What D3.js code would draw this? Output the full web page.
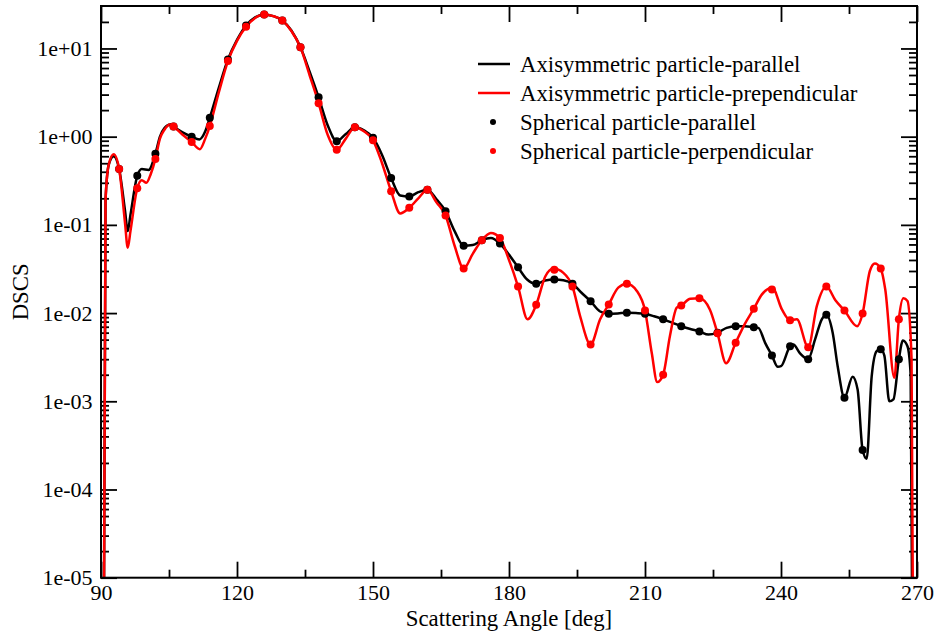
<!DOCTYPE html>
<html>
<head>
<meta charset="utf-8">
<script src="https://cdn.jsdelivr.net/npm/d3@7"></script>
<style>
  body { margin: 0; background: #fff; }
  text { font-family: "Liberation Serif", "Times New Roman", Times, serif; fill: #000; }
</style>
</head>
<body>
<svg id="chart" width="935" height="635"></svg>
<script>
// Differential scattering cross section vs. scattering angle

// ---- axis ticks ----
const angleTicks = [90, 120, 150, 180, 210, 240, 270];
const angleMinorTicks = [105, 135, 165, 195, 225, 255];
const dscsTicks = [1e-5, 1e-4, 1e-3, 1e-2, 1e-1, 1e0, 1e1];
const dscsTickLabels = ["1e-05", "1e-04", "1e-03", "1e-02", "1e-01", "1e+00", "1e+01"];

// ---- axisymmetric particle, parallel polarisation (curve) ----
const parAngles = [90, 91, 91.7, 92.8, 94, 95.3, 95.9, 96.5, 98, 99, 100.5, 102, 103, 104, 105.3, 106, 108, 110, 111.7, 113, 114, 116,
  118, 120, 122, 124, 126, 128, 130, 132, 134, 136, 138, 140, 142, 144, 146, 148, 150, 152, 154, 156,
  158, 160, 162, 164, 166, 168, 170, 172, 174, 176, 178, 180, 182, 184, 186, 188, 190, 192, 194, 196,
  198, 200, 202, 204, 206, 208, 210, 212, 214, 216, 218, 220, 222, 224, 226, 228, 230, 232, 234, 235,
  236.5, 238, 239.3, 240, 242, 242.7, 244.2, 246, 247.5, 249, 250, 251.4, 252.5, 254, 255.8, 256.9, 258, 258.9,
  260, 261.1, 262, 262.8, 263.9, 264.8, 266, 266.9, 267.9, 268.6, 270];
const parValues = [1e-14, 0.19, 0.48, 0.6, 0.43, 0.145, 0.085, 0.13, 0.36, 0.43, 0.42, 0.64, 1.0, 1.25, 1.37, 1.3, 1.12, 1.0, 0.93, 1.15, 1.64, 3.6,
  7.5, 12.5, 18.2, 22.5, 24.3, 23.3, 20.8, 16, 10.3, 5.5, 2.8, 1.35, 0.89, 1.07, 1.28, 1.18, 0.97, 0.62, 0.34, 0.215,
  0.21, 0.235, 0.25, 0.195, 0.143, 0.085, 0.058, 0.059, 0.067, 0.071, 0.0615, 0.046, 0.033, 0.024, 0.0215, 0.0234, 0.024, 0.0235, 0.0215, 0.017,
  0.0136, 0.0105, 0.0098, 0.0099, 0.0101, 0.01, 0.0098, 0.0092, 0.0085, 0.0078, 0.0071, 0.0066, 0.0062, 0.0057, 0.006, 0.0068, 0.0071, 0.0071, 0.0069, 0.0068,
  0.0046, 0.0033, 0.00246, 0.0025, 0.0042, 0.0044, 0.0035, 0.003, 0.005, 0.0085, 0.0096, 0.006, 0.0025, 0.0011, 0.0019, 0.00136, 0.00028, 0.000223,
  0.0019, 0.0037, 0.0039, 0.0033, 0.001, 0.00105, 0.003, 0.0049, 0.0042, 0.002, 1e-14];

// ---- axisymmetric particle, perpendicular polarisation (curve) ----
const perpAngles = [90, 91, 91.7, 92.8, 94, 95.3, 95.9, 96.5, 98, 99, 100, 101, 102, 103, 104, 105.2, 106, 108, 110, 111.8, 113, 114,
  116, 118, 120, 122, 124, 126, 128, 130, 132, 134, 136, 138, 140, 142, 144, 146, 148, 150, 152, 154,
  156, 158, 160, 162, 164, 166, 168, 170, 172, 174, 176, 178, 180, 182, 184.1, 186, 188, 189.8, 192, 194,
  195.7, 198, 200.1, 202, 204.1, 206, 208.2, 210, 211.5, 212.7, 214, 215.5, 217, 218, 220, 222, 224.3, 226, 227.9, 230,
  232, 234, 235.8, 238.1, 240.2, 242, 243.5, 246, 247.9, 250, 252, 254, 256.8, 258, 259.6, 260.7, 262, 263, 265, 266,
  267, 267.9, 268.8, 270];
const perpValues = [1e-14, 0.19, 0.48, 0.63, 0.43, 0.105, 0.055, 0.085, 0.26, 0.32, 0.30, 0.38, 0.56, 0.95, 1.2, 1.37, 1.3, 1.05, 0.87, 0.72, 0.95, 1.32,
  3.2, 7.2, 12.2, 17.6, 22.2, 24.3, 23.3, 20.8, 15.8, 10.3, 5.0, 2.4, 1.05, 0.71, 0.95, 1.28, 1.15, 0.91, 0.5, 0.24,
  0.135, 0.156, 0.2, 0.25, 0.18, 0.128, 0.058, 0.032, 0.047, 0.067, 0.081, 0.071, 0.04, 0.020, 0.0085, 0.0124, 0.026, 0.032, 0.0286, 0.020,
  0.0092, 0.0044, 0.0085, 0.0125, 0.0194, 0.0215, 0.0178, 0.0107, 0.0035, 0.00165, 0.002, 0.0055, 0.0115, 0.0122, 0.0145, 0.0147, 0.011, 0.0059, 0.0027, 0.0046,
  0.0075, 0.0112, 0.0163, 0.0194, 0.011, 0.0083, 0.0085, 0.0041, 0.012, 0.020, 0.014, 0.0107, 0.0071, 0.0099, 0.030, 0.0365, 0.032, 0.0185, 0.00185, 0.0085,
  0.0147, 0.0137, 0.003, 1e-14];

// ---- spherical particle (markers) ----
const sphereAngles = [94, 98, 102, 106, 110, 114, 118, 122, 126, 130, 134, 138, 142, 146, 150, 154, 158, 162, 166, 170, 174, 178,
  182, 186, 190, 194, 198, 202, 206, 210, 214, 218, 222, 226, 230, 234, 238, 242, 246, 250, 254, 258, 262, 266];
const sphereParallel = [0.43, 0.36, 0.64, 1.3, 1.0, 1.64, 7.5, 18.2, 24.3, 20.8, 10.3, 2.8, 0.89, 1.28, 0.97, 0.34, 0.21, 0.25, 0.143, 0.058, 0.067, 0.0615,
  0.033, 0.0215, 0.024, 0.0215, 0.0136, 0.0098, 0.0101, 0.0098, 0.0085, 0.0071, 0.0062, 0.006, 0.0071, 0.0069, 0.0033, 0.0042, 0.003, 0.0096, 0.0011, 0.00028, 0.0039, 0.003];
const spherePerpendicular = [0.43, 0.26, 0.56, 1.3, 0.87, 1.32, 7.2, 17.6, 24.3, 20.8, 10.3, 2.4, 0.71, 1.28, 0.91, 0.24, 0.156, 0.25, 0.128, 0.032, 0.067, 0.071,
  0.020, 0.0124, 0.031, 0.020, 0.0044, 0.0125, 0.0215, 0.0107, 0.002, 0.0122, 0.0147, 0.0059, 0.0046, 0.0112, 0.0185, 0.0083, 0.0041, 0.020, 0.0107, 0.0099, 0.032, 0.0085];

const legendItems = [
  { label: "Axisymmetric particle-parallel", kind: "line", color: "#000" },
  { label: "Axisymmetric particle-prependicular", kind: "line", color: "#ff0000" },
  { label: "Spherical particle-parallel", kind: "dot", color: "#000" },
  { label: "Spherical particle-perpendicular", kind: "dot", color: "#ff0000" }
];

// ---- layout ----
const width = 935, height = 635;
const margin = { top: 6, right: 18, bottom: 57.3, left: 101 };
const svg = d3.select("#chart");

const x = d3.scaleLinear().domain([90, 270]).range([margin.left, width - margin.right]);
const yMax = 30.3;
const y = d3.scaleLog().domain([1e-5, yMax]).range([height - margin.bottom, margin.top]);

const x0 = margin.left, x1 = width - margin.right;
const y0 = height - margin.bottom, y1 = margin.top;

// minor log ticks (2..9 per decade)
const dscsMinor = [];
for (let e = -5; e <= 1; e++) {
  for (let k = 2; k <= 9; k++) {
    const v = k * Math.pow(10, e);
    if (v < yMax * 0.98) dscsMinor.push(v);
  }
}

svg.append("defs").append("clipPath").attr("id", "plot-clip")
  .append("rect").attr("x", x0).attr("y", y1).attr("width", x1 - x0).attr("height", y0 - y1);

// ---- axes (ticks point inward on all four sides) ----
const tickStyle = g => {
  g.select(".domain").remove();
  g.selectAll(".tick line").attr("stroke", "#000").attr("stroke-width", 1.8);
  g.selectAll(".tick text").style("font-size", "22px").attr("fill", "#000");
};
const fmtAngle = d => String(d);
const fmtDscs = d => dscsTickLabels[dscsTicks.indexOf(d)];

svg.append("g").attr("transform", `translate(0,${y0})`)
  .call(d3.axisBottom(x).tickValues(angleTicks).tickFormat(fmtAngle).tickSizeInner(-16).tickSizeOuter(0).tickPadding(6.5))
  .call(tickStyle);
svg.append("g").attr("transform", `translate(0,${y0})`)
  .call(d3.axisBottom(x).tickValues(angleMinorTicks).tickFormat("").tickSizeInner(-8).tickSizeOuter(0))
  .call(tickStyle);
svg.append("g").attr("transform", `translate(0,${y1})`)
  .call(d3.axisTop(x).tickValues(angleTicks).tickFormat("").tickSizeInner(-16).tickSizeOuter(0))
  .call(tickStyle);
svg.append("g").attr("transform", `translate(0,${y1})`)
  .call(d3.axisTop(x).tickValues(angleMinorTicks).tickFormat("").tickSizeInner(-8).tickSizeOuter(0))
  .call(tickStyle);

svg.append("g").attr("transform", `translate(${x0},0)`)
  .call(d3.axisLeft(y).tickValues(dscsTicks).tickFormat(fmtDscs).tickSizeInner(-16).tickSizeOuter(0).tickPadding(8.5))
  .call(tickStyle);
svg.append("g").attr("transform", `translate(${x0},0)`)
  .call(d3.axisLeft(y).tickValues(dscsMinor).tickFormat("").tickSizeInner(-8).tickSizeOuter(0))
  .call(tickStyle);
svg.append("g").attr("transform", `translate(${x1},0)`)
  .call(d3.axisRight(y).tickValues(dscsTicks).tickFormat("").tickSizeInner(-16).tickSizeOuter(0))
  .call(tickStyle);
svg.append("g").attr("transform", `translate(${x1},0)`)
  .call(d3.axisRight(y).tickValues(dscsMinor).tickFormat("").tickSizeInner(-8).tickSizeOuter(0))
  .call(tickStyle);

// ---- curves ----
const plot = svg.append("g").attr("clip-path", "url(#plot-clip)");
const line = d3.line().x(d => x(d[0])).y(d => y(d[1])).curve(d3.curveMonotoneX);

plot.append("path").datum(d3.zip(parAngles, parValues))
  .attr("d", line).attr("fill", "none").attr("stroke", "#000").attr("stroke-width", 2.5).attr("stroke-linejoin", "round");
plot.append("path").datum(d3.zip(perpAngles, perpValues))
  .attr("d", line).attr("fill", "none").attr("stroke", "#ff0000").attr("stroke-width", 2.5).attr("stroke-linejoin", "round");

plot.append("g").selectAll("circle").data(d3.zip(sphereAngles, sphereParallel)).join("circle")
  .attr("cx", d => x(d[0])).attr("cy", d => y(d[1])).attr("r", 4).attr("fill", "#000");
plot.append("g").selectAll("circle").data(d3.zip(sphereAngles, spherePerpendicular)).join("circle")
  .attr("cx", d => x(d[0])).attr("cy", d => y(d[1])).attr("r", 4).attr("fill", "#ff0000");

// ---- frame ----
svg.append("rect").attr("x", x0).attr("y", y1).attr("width", x1 - x0).attr("height", y0 - y1)
  .attr("fill", "none").attr("stroke", "#000").attr("stroke-width", 2);

// ---- axis titles ----
svg.append("text").attr("x", (x0 + x1) / 2).attr("y", 626).attr("text-anchor", "middle")
  .style("font-size", "22.8px").text("Scattering Angle [deg]");
svg.append("text").attr("transform", `translate(28,${(y0 + y1) / 2}) rotate(-90)`).attr("text-anchor", "middle")
  .style("font-size", "22.8px").text("DSCS");

// ---- legend ----
const legend = svg.append("g").attr("transform", "translate(478,64)");
const rows = legend.selectAll("g").data(legendItems).join("g")
  .attr("transform", (d, i) => `translate(0,${i * 29})`);
rows.filter(d => d.kind === "line").append("line")
  .attr("x1", 0).attr("x2", 32).attr("y1", 0).attr("y2", 0)
  .attr("stroke", d => d.color).attr("stroke-width", 2.5);
rows.filter(d => d.kind === "dot").append("circle")
  .attr("cx", 15).attr("cy", 0).attr("r", 3).attr("fill", d => d.color);
rows.append("text").attr("x", 42).attr("y", 7.5).style("font-size", "22.8px").text(d => d.label);
</script>
</body>
</html>
